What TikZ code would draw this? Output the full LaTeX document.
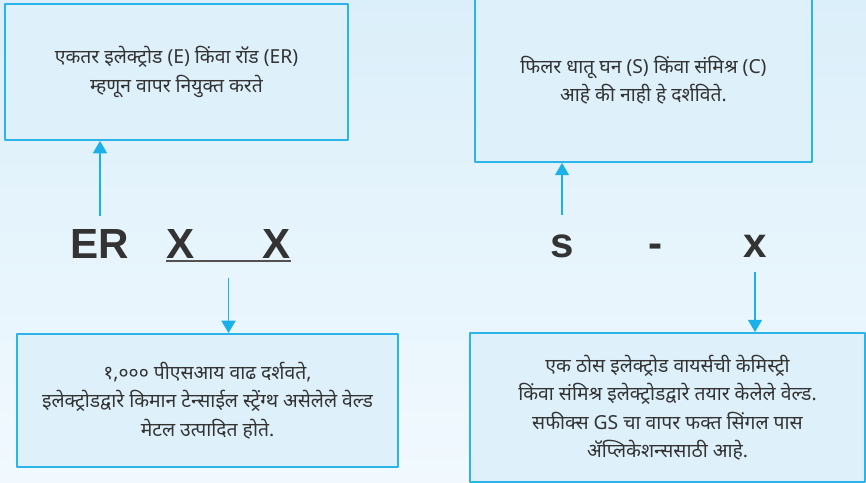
\documentclass[tikz,border=0pt]{standalone}
\usepackage{fontspec}
\setmainfont{Liberation Sans}
\newfontfamily\devfont[Script=Devanagari]{Noto Sans}
\usetikzlibrary{arrows.meta,calc,positioning}
\definecolor{bgtop}{HTML}{DBEFFA}
\definecolor{bgbot}{HTML}{F1F9FE}
\definecolor{boxfill}{HTML}{DEF1FB}
\definecolor{boxline}{HTML}{2AB4E8}
\definecolor{arrowcol}{HTML}{1AB0EA}
\definecolor{txt}{HTML}{333333}
\tikzset{infobox/.style={draw=boxline,line width=1.1pt,fill=boxfill,inner sep=0pt,align=center,text=txt,font=\devfont\fontsize{11}{16.2}\selectfont},
  code/.style={font=\bfseries\fontsize{24}{24}\selectfont,text=txt,inner sep=0pt,anchor=base},
  pointer/.style={-{Triangle[width=8pt,length=7pt]},draw=arrowcol,line width=0.85pt}}

\begin{document}
\begin{tikzpicture}[x=0.02cm,y=-0.02cm,line join=round]
\shade[top color=bgtop,bottom color=bgbot] (0,0) rectangle (866,483);
\useasboundingbox (0,0) rectangle (866,483);
% --- explanation boxes
\node[infobox,minimum width=6.86cm,minimum height=2.72cm] (rod) at (176.5,72) {एकतर इलेक्ट्रोड (E) किंवा रॉड (ER)\\ म्हणून वापर नियुक्त करते};
\node[infobox,minimum width=6.74cm,minimum height=3.28cm] (filler) at (643.5,80) {फिलर धातू घन (S) किंवा संमिश्र (C)\\ आहे की नाही हे दर्शविते.};
\node[infobox,minimum width=7.62cm,minimum height=2.66cm] (tensile) at (207.5,400.5) {१,००० पीएसआय वाढ दर्शवते,\\ इलेक्ट्रोडद्वारे किमान टेन्साईल स्ट्रेंग्थ असेलेले वेल्ड\\ मेटल उत्पादित होते.};
\node[infobox,minimum width=7.9cm,minimum height=2.98cm] (gs) at (667.5,407.5) {एक ठोस इलेक्ट्रोड वायर्सची केमिस्ट्री\\ किंवा संमिश्र इलेक्ट्रोडद्वारे तयार केलेले वेल्ड.\\ सफीक्स GS चा वापर फक्त सिंगल पास\\ ॲप्लिकेशन्ससाठी आहे.};
% --- classification code
\node[code] (er) at (100,258) {ER};
\node[code] (xa) at (180.5,258) {X};
\node[code] (xb) at (276.5,258) {X};
\node[code] (s) at (562,257) {s};
\node[code] (dash) at (655.5,257) {-};
\node[code] (x) at (755,257) {x};
\draw[txt!85,line width=0.9pt] ([yshift=-1.7pt]xa.base west) -- ([yshift=-1.7pt]xb.base east);
\coordinate (mid) at ($(xa.base)!.5!(xb.base)$);
% --- pointers
\draw[pointer] ([yshift=7.4pt]er.north) -- (er.north |- rod.south);
\draw[pointer] ([yshift=10.8pt]s.north) -- (s.north |- filler.south);
\draw[pointer] ([yshift=-11.3pt]mid) -- (mid |- tensile.north);
\draw[pointer] ([yshift=-8.5pt]x.south) -- (x.south |- gs.north);
\end{tikzpicture}
\end{document}
